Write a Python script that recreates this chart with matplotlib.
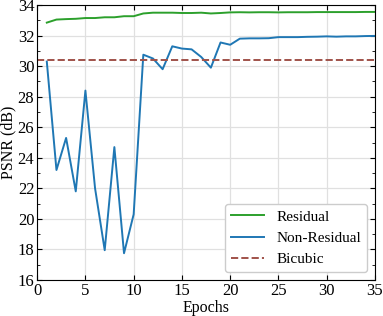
import numpy as np
import matplotlib
matplotlib.use("Agg")
import matplotlib.pyplot as plt

plt.rcParams['font.family'] = ['Liberation Serif', 'DejaVu Serif']
plt.rcParams['mathtext.fontset'] = 'stix'

epochs = list(range(1, 36))
residual = [32.85, 33.05, 33.08, 33.1, 33.15, 33.15, 33.2, 33.2, 33.27, 33.27,
            33.45, 33.5, 33.5, 33.5, 33.48, 33.48, 33.5, 33.45, 33.48, 33.52,
            33.53, 33.52, 33.53, 33.53, 33.52, 33.53, 33.53, 33.53, 33.54, 33.54,
            33.54, 33.54, 33.54, 33.55, 33.55]
non_residual = [30.3, 23.2, 25.3, 21.8, 28.4, 22.0, 17.95, 24.7, 17.75, 20.3,
                30.75, 30.5, 29.8, 31.3, 31.15, 31.1, 30.6, 29.9, 31.55, 31.4,
                31.8, 31.82, 31.82, 31.83, 31.9, 31.9, 31.9, 31.92, 31.93, 31.95,
                31.93, 31.95, 31.95, 31.97, 31.98]
bicubic = 30.38

fig = plt.figure(figsize=(3.83, 3.16), dpi=100)
ax = fig.add_axes([0.097, 0.114, 0.882, 0.87])

ax.plot(epochs, residual, color='#2ca02c', lw=1.4, label='Residual')
ax.plot(epochs, non_residual, color='#1f77b4', lw=1.4, label='Non-Residual')
ax.axhline(bicubic, color='#a0524a', lw=1.4, ls='--', label='Bicubic')

ax.set_xlim(0, 35)
ax.set_ylim(16, 34)
ax.set_xticks(range(0, 36, 5))
ax.set_yticks(range(16, 35, 2))
ax.set_yticks(range(16, 35, 1), minor=True)
ax.grid(True, color='#e0e0e0', lw=0.9)
ax.set_axisbelow(True)
ax.tick_params(direction='in', top=True, right=True, labelsize=12, pad=2)
ax.tick_params(which='minor', direction='in', right=True, left=True, length=2.5)
ax.set_xlabel('Epochs', fontsize=11.5, labelpad=1)
ax.set_ylabel('PSNR (dB)', fontsize=11.5, labelpad=1)

ax.legend(loc='lower right', fontsize=11, fancybox=True, framealpha=1,
          handlelength=2.2)

fig.savefig('out.png', dpi=100)
